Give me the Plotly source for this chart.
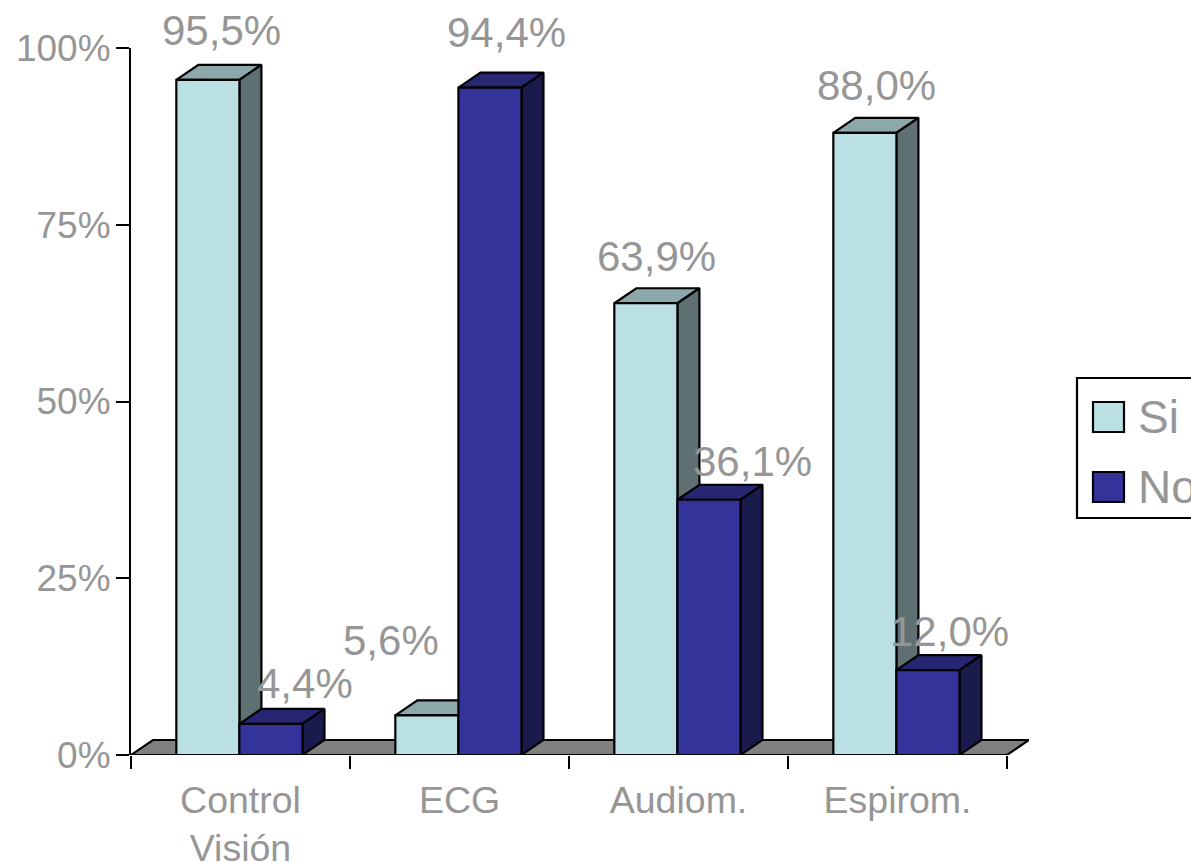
import plotly.graph_objects as go

# Survey results per medical check
categories = ["Control<br>Visión", "ECG", "Audiom.", "Espirom."]
si_values = [95.5, 5.6, 63.9, 88.0]
no_values = [4.4, 94.4, 36.1, 12.0]
y_ticks = [0, 25, 50, 75, 100]

# Pixel nudges applied to each value label (dx, dy from the front top edge)
si_label_shift = [(14, 49), (-36, 75), (11, 47), (12, 47)]
no_label_shift = [(34, 40), (17, 55), (44, 38), (22, 39)]

W, H = 1191, 863
L, T, B = 131, 48, 108
FLOOR_DEPTH_PX = 22
R = 184 - FLOOR_DEPTH_PX
plot_w, plot_h = W - L - R, H - T - B
n = len(categories)
cat_w = (plot_w - FLOOR_DEPTH_PX) / n

# Oblique projection of the bar depth, expressed in axis units
DX = FLOOR_DEPTH_PX / cat_w
DY = 15 / (plot_h / 100)
BAR_W = 0.288
BAR_GAP = 0.207

TEXT = "#969696"
SI_FACES = {"front": "#BBE0E3", "top": "#8CA8AA", "side": "#5E7072"}
NO_FACES = {"front": "#333399", "top": "#262673", "side": "#1A1A4D"}
EDGE = dict(color="black", width=2.2)


def polygon(xs, ys, color):
    return go.Scatter(
        x=xs + xs[:1], y=ys + ys[:1], mode="lines", fill="toself",
        fillcolor=color, line=EDGE, cliponaxis=False,
        hoverinfo="skip", showlegend=False,
    )


def bar_faces(x0, value, faces):
    x1 = x0 + BAR_W
    return [
        polygon([x0, x0 + DX, x1 + DX, x1], [value, value + DY, value + DY, value], faces["top"]),
        polygon([x1, x1 + DX, x1 + DX, x1], [0, DY, value + DY, value], faces["side"]),
        polygon([x0, x1, x1, x0], [0, 0, value, value], faces["front"]),
    ]


fig = go.Figure()

# Chart floor
fig.add_trace(polygon([0, DX, n + DX, n], [0, DY, DY, 0], "#808080"))

annotations = []
for i in range(n):
    x_si = i + BAR_GAP
    x_no = x_si + BAR_W
    fig.add_traces(bar_faces(x_si, si_values[i], SI_FACES))
    fig.add_traces(bar_faces(x_no, no_values[i], NO_FACES))
    for x0, value, (dx, dy) in (
        (x_si, si_values[i], si_label_shift[i]),
        (x_no, no_values[i], no_label_shift[i]),
    ):
        annotations.append(dict(
            x=x0 + BAR_W / 2, y=value, xref="x", yref="y",
            text=f"{value:.1f}%".replace(".", ","), showarrow=False,
            xshift=dx, yshift=dy, xanchor="center", yanchor="middle",
            font=dict(family="Liberation Sans", size=42, color=TEXT),
        ))


def px_x(px):
    return (px - L) / plot_w


def px_y(py):
    return (H - B - py) / plot_h


# Legend box and its entries; the box runs past the right edge of the page
shapes = [
    dict(type="rect", xref="paper", yref="paper", x0=px_x(1077), x1=px_x(1240),
         y0=px_y(518), y1=px_y(378), line=EDGE, fillcolor="white"),
]
legend_rows = [("Si", SI_FACES["front"], 417), ("No", NO_FACES["front"], 487)]
for label, color, cy in legend_rows:
    shapes.append(dict(type="rect", xref="paper", yref="paper",
                       x0=px_x(1093), x1=px_x(1124), y0=px_y(cy + 15), y1=px_y(cy - 15),
                       line=EDGE, fillcolor=color))
    annotations.append(dict(
        x=px_x(1136), y=px_y(cy), xref="paper", yref="paper", text=label,
        showarrow=False, xanchor="left", yanchor="middle",
        font=dict(family="Liberation Sans", size=46, color=TEXT),
    ))

fig.update_layout(
    width=W, height=H, autosize=False,
    margin=dict(l=L, r=R, t=T, b=B, pad=0),
    plot_bgcolor="white", paper_bgcolor="white",
    showlegend=False, shapes=shapes, annotations=annotations,
    xaxis=dict(
        range=[0, n + DX], automargin=False, showgrid=False, zeroline=False,
        showline=False, ticks="",
        tickmode="array", tickvals=[i + 0.5 for i in range(n)], ticktext=categories,
        tickfont=dict(family="Liberation Sans", size=37.5, color=TEXT),
        ticklabelstandoff=19,
        minor=dict(tickmode="array", tickvals=list(range(n + 1)), ticks="outside",
                   ticklen=13, tickwidth=2, tickcolor="black", showgrid=False),
    ),
    yaxis=dict(
        range=[0, 100], automargin=False, showgrid=False, zeroline=False, showline=True,
        linecolor="black", linewidth=2, ticks="outside", ticklen=13, tickwidth=2,
        tickcolor="black", tickmode="array", tickvals=y_ticks,
        ticktext=[f"{t}%" for t in y_ticks], ticklabelstandoff=-2,
        tickfont=dict(family="Liberation Sans", size=37, color=TEXT),
    ),
)

fig.write_html("out.html")
